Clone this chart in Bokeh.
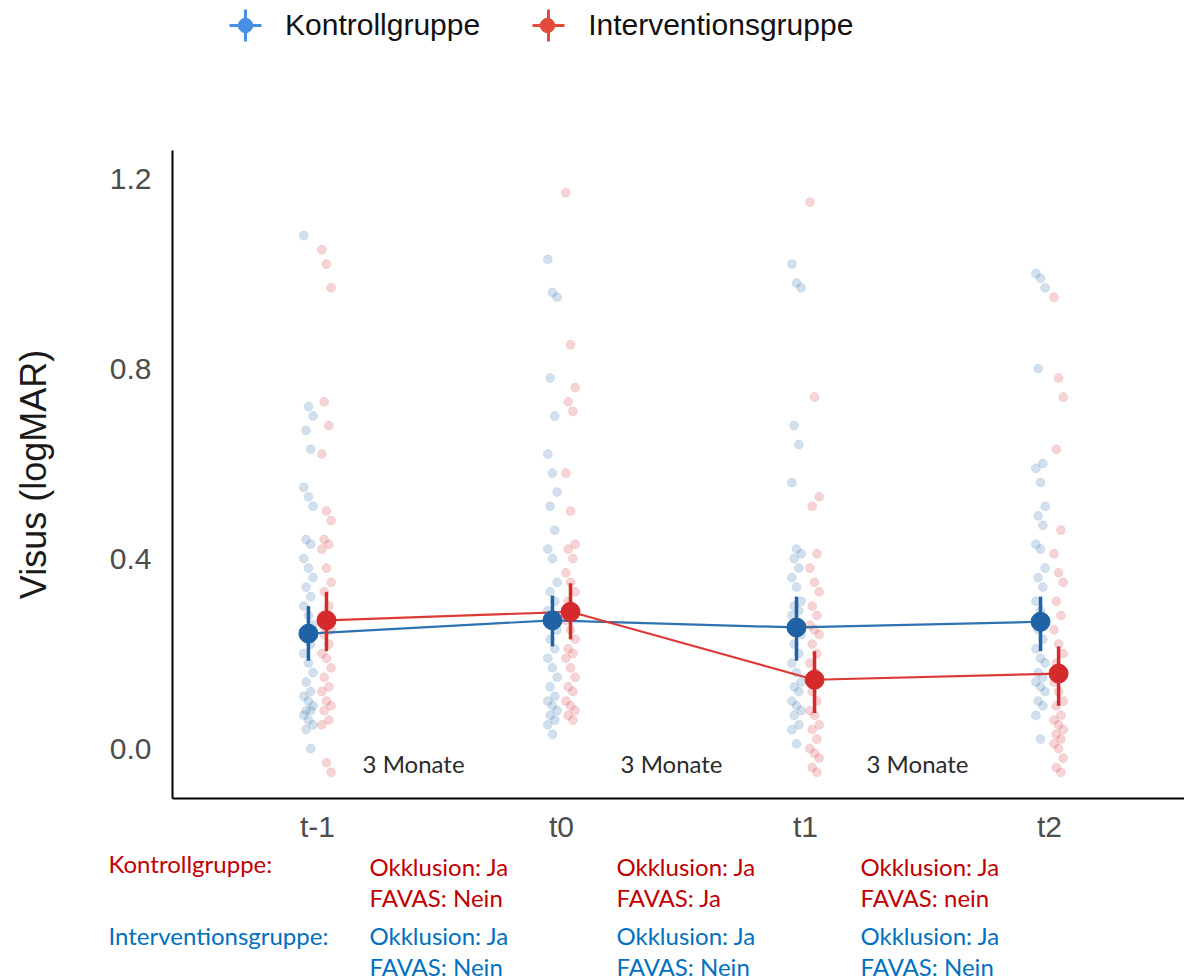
from bokeh.plotting import figure
from bokeh.models import Range1d, FixedTicker, Legend, LegendItem
from bokeh.core.properties import value
from bokeh.embed import file_html
from bokeh.resources import INLINE

categories = ["t-1", "t0", "t1", "t2"]

# Individual values (logMAR) per time point
kontroll_pts = [
    [1.08, 0.72, 0.70, 0.67, 0.63, 0.55, 0.53, 0.51, 0.44, 0.43, 0.40, 0.38, 0.36, 0.34, 0.32, 0.30, 0.28,
     0.26, 0.24, 0.22, 0.20, 0.18, 0.16, 0.14, 0.12, 0.11, 0.10, 0.09, 0.08, 0.08, 0.07, 0.06, 0.05, 0.04, 0.00],
    [1.03, 0.96, 0.95, 0.78, 0.70, 0.62, 0.58, 0.54, 0.51, 0.46, 0.42, 0.40, 0.35, 0.33, 0.31, 0.29, 0.27,
     0.25, 0.23, 0.21, 0.19, 0.17, 0.15, 0.13, 0.11, 0.10, 0.09, 0.08, 0.07, 0.06, 0.05, 0.03],
    [1.02, 0.98, 0.97, 0.68, 0.64, 0.56, 0.42, 0.41, 0.40, 0.38, 0.36, 0.34, 0.31, 0.30, 0.29, 0.28, 0.26,
     0.24, 0.22, 0.20, 0.18, 0.16, 0.14, 0.13, 0.12, 0.10, 0.09, 0.08, 0.07, 0.05, 0.04, 0.01],
    [1.00, 0.99, 0.97, 0.80, 0.60, 0.59, 0.56, 0.51, 0.49, 0.47, 0.43, 0.42, 0.38, 0.36, 0.34, 0.31, 0.29,
     0.27, 0.25, 0.23, 0.21, 0.19, 0.18, 0.16, 0.15, 0.14, 0.13, 0.12, 0.10, 0.09, 0.07, 0.02],
]
intervention_pts = [
    [1.05, 1.02, 0.97, 0.73, 0.68, 0.62, 0.50, 0.48, 0.44, 0.43, 0.42, 0.38, 0.35, 0.33, 0.30, 0.28, 0.26,
     0.25, 0.24, 0.22, 0.20, 0.19, 0.17, 0.15, 0.13, 0.12, 0.10, 0.09, 0.08, 0.06, 0.05, -0.03, -0.05],
    [1.17, 0.85, 0.76, 0.73, 0.71, 0.58, 0.50, 0.43, 0.42, 0.40, 0.37, 0.35, 0.33, 0.31, 0.29, 0.27, 0.25,
     0.23, 0.21, 0.20, 0.19, 0.17, 0.15, 0.13, 0.12, 0.10, 0.09, 0.08, 0.07, 0.06],
    [1.15, 0.74, 0.53, 0.51, 0.41, 0.38, 0.35, 0.33, 0.30, 0.28, 0.26, 0.25, 0.24, 0.22, 0.20, 0.18, 0.16,
     0.14, 0.12, 0.10, 0.08, 0.07, 0.05, 0.04, 0.02, 0.00, -0.01, -0.02, -0.04, -0.05],
    [0.95, 0.78, 0.74, 0.63, 0.46, 0.41, 0.37, 0.35, 0.31, 0.28, 0.25, 0.22, 0.20, 0.18, 0.16, 0.14, 0.12,
     0.10, 0.09, 0.07, 0.06, 0.05, 0.04, 0.03, 0.02, 0.01, 0.00, -0.02, -0.04, -0.05],
]

kontroll_mean = [0.242, 0.270, 0.255, 0.267]
kontroll_lo = [0.185, 0.215, 0.185, 0.205]
kontroll_hi = [0.300, 0.322, 0.320, 0.320]
intervention_mean = [0.270, 0.288, 0.145, 0.158]
intervention_lo = [0.205, 0.230, 0.075, 0.090]
intervention_hi = [0.330, 0.348, 0.205, 0.215]

series_names = ["Kontrollgruppe", "Interventionsgruppe"]
interval_labels = ["3 Monate", "3 Monate", "3 Monate"]
table_rows = ["Kontrollgruppe:", "Interventionsgruppe:"]
kontroll_cond = [["Okklusion: Ja", "FAVAS: Nein"], ["Okklusion: Ja", "FAVAS: Ja"], ["Okklusion: Ja", "FAVAS: nein"]]
intervention_cond = [["Okklusion: Ja", "FAVAS: Nein"], ["Okklusion: Ja", "FAVAS: Nein"], ["Okklusion: Ja", "FAVAS: Nein"]]

BLUE = "#1f63a6"
RED = "#d42a2b"
LEG_BLUE = "#4a90e2"
LEG_RED = "#e24b3b"
TXT_RED = "#c00000"
TXT_BLUE = "#0070c0"
DODGE = 0.037

# plotting area (data window) and how it sits on the canvas
W, H = 1184, 978
AX_X0, AX_X1 = 0.406, 4.553
AX_Y0, AX_Y1 = -0.105, 1.259
FR_L, FR_R, FR_T, FR_B = 172, 1184, 150, 798
sx = (FR_R - FR_L) / (AX_X1 - AX_X0)
sy = (FR_B - FR_T) / (AX_Y1 - AX_Y0)


def px2x(px):
    return AX_X0 + (px - FR_L) / sx


def py2y(py):
    return AX_Y0 + (FR_B - py) / sy


p = figure(width=W, height=H, output_backend="svg", toolbar_location=None,
           x_range=Range1d(px2x(0), px2x(W)), y_range=Range1d(py2y(H), py2y(0)),
           min_border=0, min_border_left=0, min_border_right=0, min_border_top=0, min_border_bottom=0)
p.outline_line_color = None
p.xgrid.visible = False
p.ygrid.visible = False

pos = [i + 1 for i in range(len(categories))]
kx = [x - DODGE for x in pos]
ix = [x + DODGE for x in pos]


def jitter_xs(center, n):
    return [center + ((i * 7) % 5 - 2) * 0.0095 for i in range(n)]


for pts, off, col in [(kontroll_pts, -DODGE, BLUE), (intervention_pts, DODGE, RED)]:
    xs, ys = [], []
    for k, vals in enumerate(pts):
        xs += jitter_xs(pos[k] + off, len(vals))
        ys += vals
    p.scatter(xs, ys, size=9, marker="circle", fill_color=col, line_color=col, fill_alpha=0.2, line_alpha=0.1)

p.line(kx, kontroll_mean, line_color="#2f72b0", line_width=2.2)
p.line(ix, intervention_mean, line_color="#dc3a36", line_width=2.2)
p.segment(kx, kontroll_lo, kx, kontroll_hi, line_color=BLUE, line_width=3.5)
p.scatter(kx, kontroll_mean, size=19, marker="circle", fill_color=BLUE, line_color=BLUE)
p.segment(ix, intervention_lo, ix, intervention_hi, line_color=RED, line_width=3.5)
p.scatter(ix, intervention_mean, size=19, marker="circle", fill_color=RED, line_color=RED)

# axes fixed at the edges of the data window
p.yaxis.fixed_location = AX_X0
p.yaxis.bounds = (AX_Y0, AX_Y1)
p.xaxis.fixed_location = AX_Y0
p.xaxis.bounds = (AX_X0, AX_X1)
p.yaxis.ticker = FixedTicker(ticks=[0.0, 0.4, 0.8, 1.2])
p.yaxis.major_label_overrides = {0.0: "0.0", 0.4: "0.4", 0.8: "0.8", 1.2: "1.2"}
p.xaxis.ticker = FixedTicker(ticks=pos)
p.xaxis.major_label_overrides = {pp: c for pp, c in zip(pos, categories)}
for ax in (p.xaxis[0], p.yaxis[0]):
    ax.major_tick_line_color = None
    ax.minor_tick_line_color = None
    ax.axis_line_color = "black"
    ax.axis_line_width = 2
    ax.major_label_text_font = "Liberation Sans"
    ax.major_label_text_font_size = "30px"
    ax.major_label_text_color = "#4d4d4d"
p.yaxis.major_label_standoff = 15
p.xaxis.major_label_standoff = 5
p.yaxis.axis_label = "Visus (logMAR)"
p.yaxis.axis_label_text_font = "Liberation Sans"
p.yaxis.axis_label_text_font_style = "normal"
p.yaxis.axis_label_text_font_size = "36px"
p.yaxis.axis_label_text_color = "#1a1a1a"
p.yaxis.axis_label_standoff = 53

# interval labels between time points
interval_x = [1.394, 2.451, 3.459]
p.text(x=interval_x, y=[-0.031] * 3, text=interval_labels, text_font=value("Lato"), text_font_size="24px",
       text_color="#2b2b2b", text_align="center", text_baseline="middle")

# condition table below the axis
head_px = 108
col_px = [369, 616, 860]
row_py = [866, 897, 935, 966]
p.text(x=[px2x(head_px)] * 2, y=[py2y(863), py2y(row_py[2])], text=table_rows, text_font=value("Lato"),
       text_font_size="24px", text_color=[TXT_RED, TXT_BLUE], text_baseline="middle")
for c in range(3):
    p.text(x=[px2x(col_px[c])] * 2, y=[py2y(v) for v in row_py[:2]], text=kontroll_cond[c],
           text_font=value("Lato"), text_font_size="24px", text_color=TXT_RED, text_baseline="middle")
    p.text(x=[px2x(col_px[c])] * 2, y=[py2y(v) for v in row_py[2:]], text=intervention_cond[c],
           text_font=value("Lato"), text_font_size="24px", text_color=TXT_BLUE, text_baseline="middle")

# legend keys: muted renderers (invisible in the plot, normal look in the legend)
ck = p.scatter(kx, kontroll_mean, marker="cross", line_color=LEG_BLUE, line_width=3, muted_alpha=0)
ci = p.scatter(ix, intervention_mean, marker="cross", line_color=LEG_RED, line_width=3, muted_alpha=0)
dk = p.scatter(kx, kontroll_mean, marker="circle", fill_color=LEG_BLUE, line_color=LEG_BLUE, muted_alpha=0)
di = p.scatter(ix, intervention_mean, marker="circle", fill_color=LEG_RED, line_color=LEG_RED, muted_alpha=0)
for r in (ck, ci, dk, di):
    r.muted = True

# legend location = bottom-left corner, measured from the bottom-left of the canvas
leg_cross = Legend(items=[LegendItem(label=series_names[0], renderers=[ck]),
                          LegendItem(label=series_names[1], renderers=[ci])],
                   location=(205, H - 65), orientation="horizontal", padding=0, margin=0,
                   spacing=28, label_standoff=-4, glyph_width=80, glyph_height=80,
                   label_text_font="Liberation Sans", label_text_font_size="30px", label_text_color="#111111",
                   border_line_color=None, background_fill_alpha=0, inactive_fill_alpha=0)
# second legend only adds the dots of the keys (no visible labels)
leg_dot = Legend(items=[LegendItem(label=" ", renderers=[dk]),
                        LegendItem(label=" ", renderers=[di])],
                 location=(227, H - 43), orientation="horizontal", padding=0, margin=0,
                 spacing=246, label_standoff=0, glyph_width=36, glyph_height=36,
                 label_text_font="Liberation Sans", label_text_font_size="1px", label_text_alpha=0,
                 border_line_color=None, background_fill_alpha=0, inactive_fill_alpha=0)
p.add_layout(leg_cross, "center")
p.add_layout(leg_dot, "center")

open("out.html", "w").write(file_html(p, INLINE))
